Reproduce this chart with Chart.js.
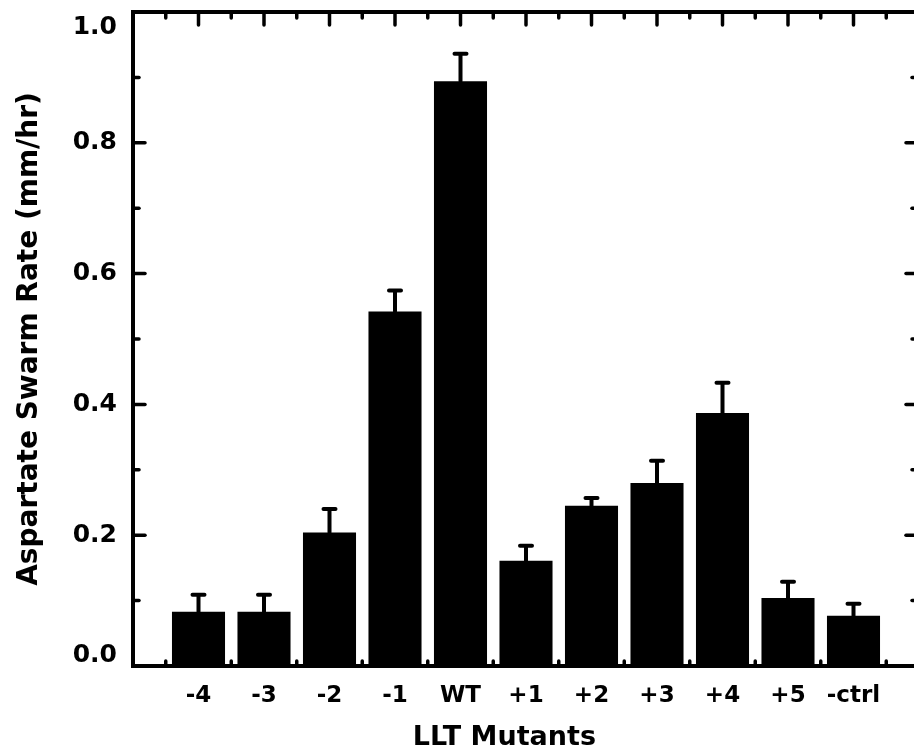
<!DOCTYPE html>
<html>
<head>
<meta charset="utf-8">
<script src="https://cdn.jsdelivr.net/npm/chart.js@4.4.0/dist/chart.umd.min.js"></script>
<style>
  html, body { margin: 0; padding: 0; background: #fff; overflow: hidden; }
  #wrap { width: 930px; height: 756px; }
</style>
</head>
<body>
<div id="wrap"><canvas id="swarm-chart" width="930" height="756"></canvas></div>
<script>
const mutants = ['-4', '-3', '-2', '-1', 'WT', '+1', '+2', '+3', '+4', '+5', '-ctrl'];
const swarmRates = [0.083, 0.083, 0.204, 0.542, 0.894, 0.161, 0.245, 0.280, 0.387, 0.104, 0.077];
const swarmErrors = [0.026, 0.026, 0.036, 0.032, 0.042, 0.023, 0.012, 0.034, 0.046, 0.025, 0.018];
const yMajorTicks = [0, 0.2, 0.4, 0.6, 0.8, 1.0];
const yMinorTicks = [0.1, 0.3, 0.5, 0.7, 0.9];
const yTickLabels = ['0.0', '0.2', '0.4', '0.6', '0.8', '1.0'];
const xTitle = 'LLT Mutants';
const yTitle = 'Aspartate Swarm Rate (mm/hr)';

const FONT = '"DejaVu Sans", sans-serif';

// error bars, frame, inward ticks and all labels
const framePlugin = {
  id: 'frame',
  afterDatasetsDraw(chart) {
    const { ctx, chartArea: area, scales } = chart;
    const x = scales.x;
    const y = scales.y;
    const meta = chart.getDatasetMeta(0);

    ctx.save();
    ctx.strokeStyle = '#000';
    ctx.fillStyle = '#000';
    ctx.lineCap = 'round';

    // error bars (upper half only)
    ctx.lineWidth = 4;
    meta.data.forEach((bar, i) => {
      const yTop = y.getPixelForValue(swarmRates[i] + swarmErrors[i]);
      ctx.beginPath();
      ctx.moveTo(bar.x, bar.y);
      ctx.lineTo(bar.x, yTop);
      ctx.moveTo(bar.x - 6, yTop);
      ctx.lineTo(bar.x + 6, yTop);
      ctx.stroke();
    });

    // frame
    ctx.lineCap = 'butt';
    ctx.lineWidth = 4;
    ctx.strokeRect(area.left, area.top, area.right - area.left, area.bottom - area.top);

    ctx.lineCap = 'round';
    ctx.lineWidth = 3.5;
    const line = (x1, y1, x2, y2) => {
      ctx.beginPath();
      ctx.moveTo(x1, y1);
      ctx.lineTo(x2, y2);
      ctx.stroke();
    };

    yMajorTicks.forEach((v) => {
      const py = y.getPixelForValue(v);
      line(area.left, py, area.left + 12, py);
      line(area.right, py, area.right - 13, py);
    });
    yMinorTicks.forEach((v) => {
      const py = y.getPixelForValue(v);
      line(area.left, py, area.left + 6, py);
      line(area.right, py, area.right - 7, py);
    });

    mutants.forEach((m, i) => {
      const px = x.getPixelForValue(i);
      line(px, area.top, px, area.top + 13);
      const ph = x.getPixelForValue(i - 0.5);
      line(ph, area.top, ph, area.top + 6);
      line(ph, area.bottom, ph, area.bottom - 5);
    });
    const last = x.getPixelForValue(mutants.length - 0.5);
    line(last, area.top, last, area.top + 6);
    line(last, area.bottom, last, area.bottom - 5);

    // y tick labels
    ctx.font = 'bold 25px ' + FONT;
    ctx.textAlign = 'right';
    ctx.textBaseline = 'middle';
    yMajorTicks.forEach((v, i) => {
      let py = y.getPixelForValue(v);
      py = Math.min(Math.max(py, area.top + 15), area.bottom - 11);
      ctx.fillText(yTickLabels[i], area.left - 16, py);
    });

    // x tick labels
    ctx.font = 'bold 23px ' + FONT;
    ctx.textAlign = 'center';
    ctx.textBaseline = 'alphabetic';
    mutants.forEach((m, i) => {
      ctx.fillText(m, x.getPixelForValue(i), area.bottom + 36);
    });

    // axis titles
    ctx.font = 'bold 27px ' + FONT;
    ctx.fillText(xTitle, x.getPixelForValue(4.67), area.bottom + 79);

    ctx.font = 'bold 28px ' + FONT;
    ctx.translate(37, (area.top + area.bottom) / 2);
    ctx.rotate(-Math.PI / 2);
    ctx.fillText(yTitle, 0, 0);
    ctx.restore();
  }
};

new Chart(document.getElementById('swarm-chart'), {
  type: 'bar',
  data: {
    datasets: [
      {
        label: 'Swarm rate',
        data: mutants.map((m, i) => ({ x: i, y: swarmRates[i] })),
        backgroundColor: '#000',
        borderWidth: 0,
        barPercentage: 0.9,
        categoryPercentage: 0.9
      }
    ]
  },
  options: {
    responsive: false,
    animation: false,
    layout: {
      padding: { left: 133, top: 12, right: 11, bottom: 90 }
    },
    plugins: {
      legend: { display: false },
      tooltip: { enabled: false }
    },
    scales: {
      x: { type: 'linear', min: -1, max: 11, offset: false, display: false },
      y: { min: 0, max: 1, display: false }
    }
  },
  plugins: [framePlugin]
});
</script>
</body>
</html>
